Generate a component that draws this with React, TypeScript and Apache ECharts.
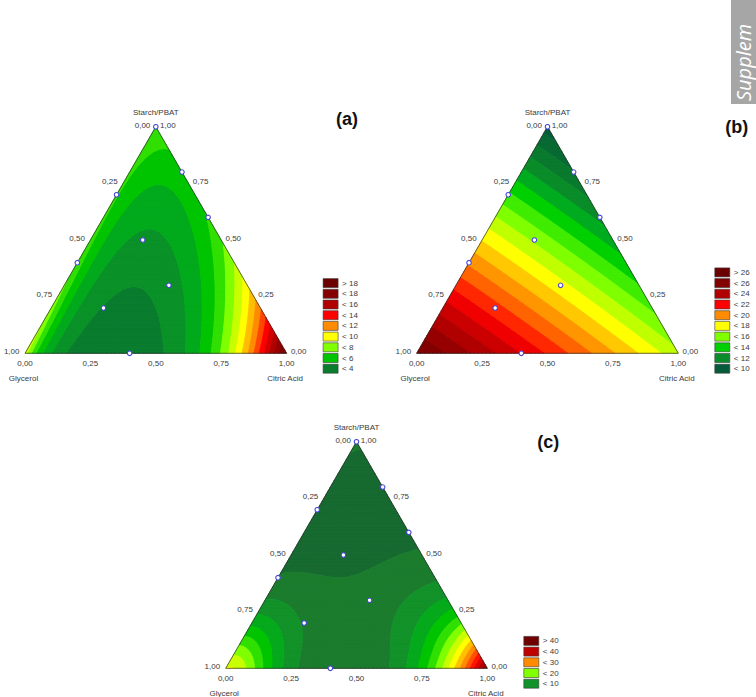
import React, { useEffect, useRef } from 'react';
import * as echarts from 'echarts';

// ---------- data ----------
const tickValues = [0, 0.25, 0.5, 0.75, 1];
const tickLabels = ['0,00', '0,25', '0,50', '0,75', '1,00'];
const componentNames = ['Starch/PBAT', 'Glycerol', 'Citric Acid'];
const panelTags = ['(a)', '(b)', '(c)'];

// mixture design points [Starch/PBAT, Glycerol, Citric Acid]
const designPoints = [
  [1, 0, 0], [0.7, 0.3, 0], [0.4, 0.6, 0], [0.8, 0, 0.2], [0.6, 0, 0.4],
  [0.5, 0.3, 0.2], [0.3, 0.3, 0.4], [0.2, 0.6, 0.2], [0, 0.6, 0.4],
];

// response readings [Starch/PBAT, Glycerol, Citric Acid, value]
const readingsA = [
  [0, 1, 0, 6.6], [0, 0.97, 0.03, 6], [0, 0.9, 0.1, 5], [0, 0.83, 0.17, 4], [0, 0.78, 0.22, 3],
  [0, 0.74, 0.26, 2], [0, 0.62, 0.38, 1.75], [0, 0.5, 0.5, 2], [0, 0.446, 0.554, 3], [0, 0.396, 0.604, 4],
  [0, 0.347, 0.653, 5], [0, 0.293, 0.707, 6], [0, 0.255, 0.745, 7], [0, 0.224, 0.776, 8], [0, 0.198, 0.802, 9],
  [0, 0.171, 0.829, 10], [0, 0.14, 0.86, 11], [0, 0.121, 0.879, 12], [0, 0.102, 0.898, 13], [0, 0.083, 0.917, 14],
  [0, 0.045, 0.955, 16], [0, 0, 1, 19],
  [0.06, 0, 0.94, 16.5], [0.117, 0, 0.883, 14], [0.177, 0, 0.823, 12], [0.25, 0, 0.75, 10], [0.294, 0, 0.706, 9],
  [0.338, 0, 0.662, 8], [0.45, 0, 0.55, 7], [0.6, 0, 0.4, 6.4], [0.8, 0, 0.2, 6.3], [1, 0, 0, 6.6],
  [0.2, 0.8, 0, 6.4], [0.4, 0.6, 0, 6.3], [0.6, 0.4, 0, 6.4], [0.8, 0.2, 0, 6.5],
  [0.897, 0.036, 0.067, 6], [0.772, 0.111, 0.117, 5], [0.64, 0.196, 0.164, 4], [0.525, 0.298, 0.177, 3],
  [0.287, 0.455, 0.258, 2], [0.5, 0.3, 0.2, 3.05], [0.2, 0.6, 0.2, 2.9], [0.3, 0.3, 0.4, 3.9],
  [0.2, 0.4, 0.4, 2.8], [0.2, 0.2, 0.6, 5.9], [0.4, 0.2, 0.4, 4.6], [0.4, 0.4, 0.2, 2.9],
  [0.6, 0.2, 0.2, 3.9], [0.6, 0.3, 0.1, 5.1], [0.4, 0.5, 0.1, 5.1], [0.2, 0.7, 0.1, 5.0],
  [0.8, 0.1, 0.1, 5.1], [0.3, 0.1, 0.6, 6.7], [0.2, 0.1, 0.7, 8.0], [0.1, 0.1, 0.8, 10.2],
  [0.1, 0.3, 0.6, 6.8], [0.1, 0.6, 0.3, 1.9], [0.1, 0.8, 0.1, 5.0], [0.5, 0.1, 0.4, 5.3],
  [0.7, 0.2, 0.1, 5.1], [0.3, 0.5, 0.2, 3.0], [0.5, 0.4, 0.1, 5.1], [0.5, 0.2, 0.3, 4.8],
  [0.4, 0.3, 0.3, 3.5], [0.3, 0.2, 0.5, 6.0], [0.5, 0.46, 0.04, 5.9], [0.2, 0.76, 0.04, 5.9],
];

const readingsB = [
  [1, 0, 0, 8.5], [0.9, 0.1, 0, 10.4], [0.8, 0.2, 0, 12.3], [0.7, 0.3, 0, 14.1], [0.6, 0.4, 0, 16.0],
  [0.5, 0.5, 0, 17.9], [0.4, 0.6, 0, 19.7], [0.3, 0.7, 0, 21.6], [0.2, 0.8, 0, 23.5], [0.1, 0.9, 0, 25.3],
  [0, 1, 0, 27.2],
  [0.8, 0, 0.2, 10.1], [0.6, 0, 0.4, 11.6], [0.4, 0, 0.6, 13.2], [0.2, 0, 0.8, 14.7], [0, 0, 1, 16.3],
  [0, 0.8, 0.2, 25.0], [0, 0.6, 0.4, 22.8], [0, 0.4, 0.6, 20.7], [0, 0.2, 0.8, 18.5],
  [0.5, 0.3, 0.2, 15.9], [0.3, 0.3, 0.4, 17.5], [0.2, 0.6, 0.2, 21.5], [0.6, 0.2, 0.2, 13.9],
  [0.4, 0.2, 0.4, 15.5], [0.2, 0.2, 0.6, 17.1], [0.4, 0.4, 0.2, 17.7], [0.2, 0.4, 0.4, 19.3],
  [0.8, 0.1, 0.1, 11.2], [0.1, 0.1, 0.8, 16.7], [0.1, 0.8, 0.1, 24.3],
];

const readingsC = [
  [0, 1, 0, 24.5], [0, 0.97, 0.03, 22.5], [0, 0.945, 0.055, 20], [0, 0.91, 0.09, 17.5], [0, 0.865, 0.135, 15],
  [0, 0.814, 0.186, 12.5], [0, 0.75, 0.25, 10], [0, 0.68, 0.32, 7.5], [0, 0.655, 0.345, 5], [0, 0.6, 0.4, 4.3],
  [0, 0.535, 0.465, 5], [0, 0.46, 0.54, 6.2], [0, 0.383, 0.617, 7.5], [0, 0.32, 0.68, 10], [0, 0.267, 0.733, 12.5],
  [0, 0.23, 0.77, 15], [0, 0.19, 0.81, 17.5], [0, 0.167, 0.833, 20], [0, 0.14, 0.86, 22.5], [0, 0.121, 0.879, 25],
  [0, 0.102, 0.898, 27.5], [0, 0.083, 0.917, 30], [0, 0.065, 0.935, 32.5], [0, 0.04, 0.96, 35], [0, 0.02, 0.98, 40],
  [0, 0, 1, 45],
  [0.02, 0, 0.98, 40], [0.04, 0, 0.96, 35], [0.065, 0, 0.935, 32.5], [0.083, 0, 0.917, 30], [0.102, 0, 0.898, 27.5],
  [0.121, 0, 0.879, 25], [0.14, 0, 0.86, 22.5], [0.167, 0, 0.833, 20], [0.19, 0, 0.81, 17.5], [0.23, 0, 0.77, 15],
  [0.267, 0, 0.733, 12.5], [0.32, 0, 0.68, 10], [0.383, 0, 0.617, 7.5], [0.45, 0, 0.55, 6.1], [0.546, 0, 0.454, 5],
  [0.65, 0, 0.35, 4.2], [0.8, 0, 0.2, 4.2], [0.9, 0, 0.1, 4.6], [1, 0, 0, 5.3],
  [0.03, 0.97, 0, 22.5], [0.055, 0.945, 0, 20], [0.09, 0.91, 0, 17.5], [0.135, 0.865, 0, 15], [0.19, 0.81, 0, 12.5],
  [0.25, 0.75, 0, 10], [0.31, 0.69, 0, 7.5], [0.4, 0.6, 0, 5], [0.5, 0.5, 0, 4.2], [0.6, 0.4, 0, 3.8],
  [0.7, 0.3, 0, 3.7], [0.8, 0.2, 0, 4.0], [0.9, 0.1, 0, 4.5],
  [0.5, 0.3, 0.2, 4.0], [0.3, 0.3, 0.4, 6.8], [0.2, 0.6, 0.2, 7.5], [0.4, 0.4, 0.2, 4.9], [0.4, 0.3, 0.3, 5.4],
  [0.4, 0.2, 0.4, 5.7], [0.383, 0.511, 0.106, 5.0], [0.442, 0.328, 0.23, 5.0], [0.465, 0.215, 0.32, 5.0],
  [0.494, 0.06, 0.446, 5.0], [0.6, 0.2, 0.2, 3.8], [0.6, 0.3, 0.1, 3.7], [0.7, 0.1, 0.2, 3.8], [0.8, 0.1, 0.1, 4.2],
  [0.6, 0.1, 0.3, 4.3], [0.5, 0.2, 0.3, 4.6], [0.5, 0.4, 0.1, 4.1], [0.7, 0.2, 0.1, 3.8], [0.3, 0.4, 0.3, 5.8],
  [0.3, 0.5, 0.2, 5.8], [0.2, 0.5, 0.3, 5.8], [0.1, 0.6, 0.3, 5.7], [0.1, 0.5, 0.4, 4.9], [0.15, 0.45, 0.4, 5.4],
  [0.2, 0.4, 0.4, 6.2], [0.1, 0.4, 0.5, 5.8], [0.2, 0.3, 0.5, 6.6], [0.3, 0.2, 0.5, 6.4], [0.4, 0.1, 0.5, 5.8],
  [0.058, 0.058, 0.884, 27.7], [0.115, 0.115, 0.77, 16.9], [0.173, 0.173, 0.654, 10.8], [0.22, 0.22, 0.56, 7.5],
  [0.1, 0.1, 0.8, 19.5], [0.2, 0.1, 0.7, 12.9], [0.1, 0.2, 0.7, 12.9], [0.3, 0.1, 0.6, 8.3], [0.1, 0.3, 0.6, 8.3],
  [0.058, 0.884, 0.058, 17], [0.115, 0.77, 0.115, 12.5], [0.173, 0.654, 0.173, 9], [0.1, 0.8, 0.1, 13.5],
  [0.2, 0.7, 0.1, 9.8], [0.1, 0.7, 0.2, 9.6], [0.3, 0.6, 0.1, 7.0],
];

// fitted response-surface polynomial per panel: degree, and whether it is fitted on ln(value)
const modelDegrees = [3, 2, 5];
const modelLog = [true, false, true];

// contour levels
const levelsA = [2, 3, 4, 5, 6, 7, 8, 9, 10, 11, 12, 13, 14, 15, 16, 17, 18];
const levelsB = [9, 10, 11, 12, 13, 14, 15, 16, 17, 18, 19, 20, 21, 22, 23, 24, 25, 26, 27];
const levelsC = [2.5, 5, 7.5, 10, 12.5, 15, 17.5, 20, 22.5, 25, 27.5, 30, 32.5, 35, 37.5, 40, 42.5];

// legend labels
const legendLabelsA = ['> 18', '< 18', '< 16', '< 14', '< 12', '< 10', '< 8', '< 6', '< 4'];
const legendLabelsB = ['> 26', '< 26', '< 24', '< 22', '< 20', '< 18', '< 16', '< 14', '< 12', '< 10'];
const legendLabelsC = ['> 40', '< 40', '< 30', '< 20', '< 10'];

// ---------- styles ----------
const bandColorsA = ['#0b6a34', '#0a7c2e', '#0a9228', '#02aa1c', '#00c400', '#30e000', '#80ff00', '#c8ff00', '#ffff00',
  '#ffbe00', '#ff8c00', '#ff4600', '#ff0000', '#d20000', '#b00000', '#960000', '#850000', '#6b0000'];
const bandColorsB = ['#065c3a', '#086a34', '#0a7a2e', '#0a8c2a', '#00ac20', '#00d000', '#40ec00', '#80ff00', '#c0ff00',
  '#ffff00', '#ffc800', '#ff9600', '#ff6400', '#ff2800', '#f00000', '#cc0000', '#b00000', '#960000', '#820000', '#6b0000'];
const bandColorsC = ['#136030', '#176a30', '#1c7c2e', '#12922a', '#06aa1c', '#00c400', '#30e000', '#80ff00', '#c8ff00',
  '#ffff00', '#ffc000', '#ff8c00', '#ff5000', '#ff1400', '#e00000', '#b80000', '#940000', '#700000'];
const legendColorsA = ['#6b0000', '#850000', '#b00000', '#ff0000', '#ff8c00', '#ffff00', '#80ff00', '#00c400', '#0a7c2e'];
const legendColorsB = ['#6b0000', '#820000', '#b00000', '#ff0000', '#ff8c00', '#ffff00', '#80ff00', '#00d000', '#0a8c2a', '#065c3a'];
const legendColorsC = ['#700000', '#c00000', '#ff8c00', '#80ff00', '#12922a'];

const FONT = '"Liberation Sans", Arial, Helvetica, sans-serif';
const SIDE = 261.6;
const H = SIDE * Math.sqrt(3) / 2;
const R3 = Math.sqrt(3) / 2;

// ---------- least-squares response surface ----------
function solve(A: number[][], b: number[]) {
  const n = b.length;
  for (let c = 0; c < n; c++) {
    let p = c;
    for (let r = c + 1; r < n; r++) if (Math.abs(A[r][c]) > Math.abs(A[p][c])) p = r;
    const t = A[c]; A[c] = A[p]; A[p] = t;
    const tb = b[c]; b[c] = b[p]; b[p] = tb;
    const piv = A[c][c];
    for (let r = c + 1; r < n; r++) {
      const f = A[r][c] / piv;
      if (f === 0) continue;
      for (let k = c; k < n; k++) A[r][k] -= f * A[c][k];
      b[r] -= f * b[c];
    }
  }
  const x = new Array(n).fill(0);
  for (let r = n - 1; r >= 0; r--) {
    let s = b[r];
    for (let k = r + 1; k < n; k++) s -= A[r][k] * x[k];
    x[r] = s / A[r][r];
  }
  return x;
}

function fitSurface(readings: number[][], deg: number, useLog: boolean) {
  const terms: number[][] = [];
  for (let i = 0; i <= deg; i++) for (let j = 0; i + j <= deg; j++) terms.push([i, j]);
  const basis = (x: number, y: number) => {
    const u = (x - 0.5) * 2, w = (y - 0.29) * 2;
    return terms.map(([i, j]) => Math.pow(u, i) * Math.pow(w, j));
  };
  const m = terms.length;
  const A = Array.from({ length: m }, () => new Array(m).fill(0));
  const b = new Array(m).fill(0);
  for (const r of readings) {
    const S = r[0], C = r[2];
    const phi = basis(C + S / 2, S * R3);
    const target = useLog ? Math.log(r[3]) : r[3];
    for (let a = 0; a < m; a++) {
      b[a] += phi[a] * target;
      for (let c = 0; c < m; c++) A[a][c] += phi[a] * phi[c];
    }
  }
  for (let a = 0; a < m; a++) A[a][a] += 1e-7;
  const coef = solve(A, b);
  return (x: number, y: number) => {
    const phi = basis(x, y);
    let s = 0;
    for (let a = 0; a < m; a++) s += coef[a] * phi[a];
    return useLog ? Math.exp(s) : s;
  };
}

function clip(poly: number[][], L: number, above: boolean) {
  const out: number[][] = [];
  for (let a = 0; a < poly.length; a++) {
    const P = poly[a], Q = poly[(a + 1) % poly.length];
    const pin = above ? P[2] >= L : P[2] <= L;
    const qin = above ? Q[2] >= L : Q[2] <= L;
    if (pin) out.push(P);
    if (pin !== qin) {
      const t = (L - P[2]) / (Q[2] - P[2]);
      out.push([P[0] + t * (Q[0] - P[0]), P[1] + t * (Q[1] - P[1]), L]);
    }
  }
  return out;
}

// polygons per band, in data coords [x = C + S/2, S]
function buildBands(f: (x: number, y: number) => number, levels: number[], N: number) {
  const node: number[][][] = [];
  for (let j = 0; j <= N; j++) {
    const row: number[][] = [];
    for (let i = 0; i <= N - j; i++) {
      const S = j / N, C = i / N;
      const x = C + S / 2;
      row.push([x, S, f(x, S * R3)]);
    }
    node.push(row);
  }
  const bands: number[][][][] = levels.map(() => []);
  bands.push([]);
  const idx = (v: number) => { let k = 0; while (k < levels.length && v >= levels[k]) k++; return k; };
  const addTri = (t: number[][]) => {
    const vs = t.map((p) => p[2]);
    const k0 = idx(Math.min(...vs)), k1 = idx(Math.max(...vs));
    if (k0 === k1) { bands[k0].push(t); return; }
    for (let k = k0; k <= k1; k++) {
      let poly = t;
      if (k > 0) poly = clip(poly, levels[k - 1], true);
      if (k < levels.length && poly.length) poly = clip(poly, levels[k], false);
      if (poly.length >= 3) bands[k].push(poly);
    }
  };
  for (let j = 0; j < N; j++) {
    for (let i = 0; i + j < N; i++) {
      addTri([node[j][i], node[j][i + 1], node[j + 1][i]]);
      if (i + j + 2 <= N) addTri([node[j][i + 1], node[j + 1][i + 1], node[j + 1][i]]);
    }
  }
  return bands;
}

function buildOption() {
  const panels = [
    { ox: 25, oy: 353.3, readings: readingsA, levels: levelsA, bandColors: bandColorsA, legendLabels: legendLabelsA, legendColors: legendColorsA, tagX: 347, tagY: 119 },
    { ox: 416.7, oy: 353.3, readings: readingsB, levels: levelsB, bandColors: bandColorsB, legendLabels: legendLabelsB, legendColors: legendColorsB, tagX: 736.7, tagY: 126.7 },
    { ox: 225.7, oy: 668.3, readings: readingsC, levels: levelsC, bandColors: bandColorsC, legendLabels: legendLabelsC, legendColors: legendColorsC, tagX: 548.3, tagY: 441.7 },
  ];

  const labelSpecs: any[] = [];
  labelSpecs.push({ x: 0.5, y: 1, text: componentNames[0], align: 'center', dx: 0, dy: -14 });
  tickValues.forEach((t, k) => {
    const S = 1 - t;
    labelSpecs.push({ x: S / 2, y: S, text: tickLabels[k], align: 'right', dx: -5.5, dy: -1.7 });
    labelSpecs.push({ x: 1 - t / 2, y: t, text: tickLabels[k], align: 'left', dx: 4.3, dy: -1.7 });
    labelSpecs.push({ x: t, y: 0, text: tickLabels[k], align: 'center', dx: 0, dy: 10.4 });
  });
  labelSpecs.push({ x: 0, y: 0, text: componentNames[1], align: 'center', dx: -1.5, dy: 24.7 });
  labelSpecs.push({ x: 1, y: 0, text: componentNames[2], align: 'center', dx: -1.5, dy: 24.7 });

  const series: any[] = [];
  const graphic: any[] = [];

  panels.forEach((p, pi) => {
    const f = fitSurface(p.readings, modelDegrees[pi], modelLog[pi]);
    const bands = buildBands(f, p.levels, 64);
    const used = bands.map((b, k) => ({ b, k })).filter((o) => o.b.length > 0);
    series.push({
      type: 'custom', coordinateSystem: 'cartesian2d', xAxisIndex: pi, yAxisIndex: pi, clip: false, silent: true, z: 1,
      data: used.map(() => [0.5, 0.5]),
      renderItem: (params: any, api: any) => {
        const o = used[params.dataIndex];
        let d = '';
        for (const poly of o.b) {
          for (let m = 0; m < poly.length; m++) {
            const c = api.coord([poly[m][0], poly[m][1]]);
            d += (m ? 'L' : 'M') + c[0].toFixed(2) + ' ' + c[1].toFixed(2);
          }
          d += 'Z';
        }
        const col = p.bandColors[o.k];
        return { type: 'path', shape: { pathData: d }, style: { fill: col, stroke: col, lineWidth: 0.7, lineJoin: 'round' } };
      },
    });
    series.push({
      type: 'custom', coordinateSystem: 'cartesian2d', xAxisIndex: pi, yAxisIndex: pi, clip: false, silent: true, z: 2,
      data: [[0.5, 0.5]],
      renderItem: (params: any, api: any) => ({
        type: 'polygon',
        shape: { points: [api.coord([0, 0]), api.coord([1, 0]), api.coord([0.5, 1])] },
        style: { fill: 'none', stroke: '#2a2a2a', lineWidth: 0.7 },
      }),
    });
    series.push({
      type: 'scatter', xAxisIndex: pi, yAxisIndex: pi, z: 3, silent: true,
      symbol: 'circle', symbolSize: 4.5,
      itemStyle: { color: '#ffffff', borderColor: '#4646d8', borderWidth: 1.1, opacity: 1 },
      data: designPoints.map((d) => [d[2] + d[0] / 2, d[0]]),
    });
    series.push({
      type: 'custom', coordinateSystem: 'cartesian2d', xAxisIndex: pi, yAxisIndex: pi, clip: false, silent: true, z: 4,
      data: labelSpecs.map((s) => [s.x, s.y]),
      renderItem: (params: any, api: any) => {
        const s = labelSpecs[params.dataIndex];
        const c = api.coord([api.value(0), api.value(1)]);
        return {
          type: 'text', x: c[0] + s.dx, y: c[1] + s.dy,
          style: { text: s.text, fill: '#3a3a3a', fontSize: 8, fontFamily: FONT, align: s.align, textAlign: s.align, verticalAlign: 'middle', textVerticalAlign: 'middle' },
        };
      },
    });

    const n = p.legendLabels.length;
    const bx = p.ox + SIDE + 36.5;
    p.legendLabels.forEach((lab, r) => {
      const cy = p.oy + 15.4 - (n - 1 - r) * 10.7;
      graphic.push({ type: 'rect', shape: { x: bx, y: cy - 4.5, width: 15, height: 9 }, style: { fill: p.legendColors[r], stroke: '#3a3a3a', lineWidth: 0.6 }, silent: true });
      graphic.push({ type: 'text', x: bx + 19, y: cy, style: { text: lab, fill: '#3a3a3a', fontSize: 8, fontFamily: FONT, align: 'left', textAlign: 'left', verticalAlign: 'middle', textVerticalAlign: 'middle' }, silent: true });
    });
    graphic.push({ type: 'text', x: p.tagX, y: p.tagY, style: { text: panelTags[pi], fill: '#111', fontSize: 18, fontWeight: 'bold', fontFamily: FONT, align: 'center', textAlign: 'center', verticalAlign: 'middle', textVerticalAlign: 'middle' }, silent: true });
  });

  graphic.push({ type: 'rect', shape: { x: 731, y: -5, width: 30, height: 109 }, style: { fill: '#a6a6a6' }, silent: true, z: 0 });
  graphic.push({ type: 'text', x: 743.5, y: 101, rotation: Math.PI / 2, style: { text: 'Supplem', fill: '#ffffff', fontSize: 20, fontStyle: 'italic', fontFamily: '"Open Sans", "Liberation Sans", sans-serif', align: 'left', textAlign: 'left', verticalAlign: 'middle', textVerticalAlign: 'middle' }, silent: true });

  return {
    animation: false,
    backgroundColor: '#ffffff',
    grid: panels.map((p) => ({ left: p.ox, top: p.oy - H, width: SIDE, height: H })),
    xAxis: panels.map((_, i) => ({ type: 'value', gridIndex: i, min: 0, max: 1, show: false })),
    yAxis: panels.map((_, i) => ({ type: 'value', gridIndex: i, min: 0, max: 1, show: false })),
    series,
    graphic,
  };
}

export default function App() {
  const ref = useRef<HTMLDivElement>(null);
  useEffect(() => {
    if (!ref.current) return;
    const chart = echarts.init(ref.current, null, { renderer: 'svg' });
    chart.setOption(buildOption() as any);
    return () => chart.dispose();
  }, []);
  return <div ref={ref} style={{ position: 'absolute', left: 0, top: 0, width: 756, height: 697, background: '#fff' }} />;
}
